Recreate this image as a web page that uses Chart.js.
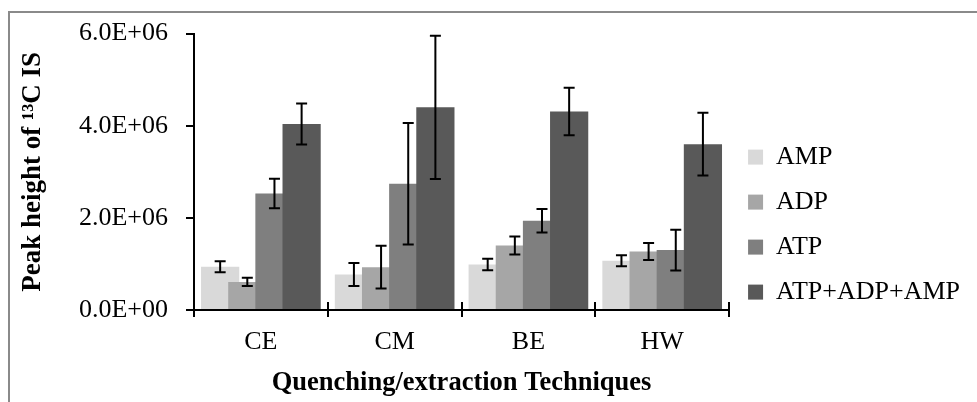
<!DOCTYPE html>
<html>
<head>
<meta charset="utf-8">
<script src="https://cdn.jsdelivr.net/npm/chart.js@4/dist/chart.umd.min.js"></script>
<style>
  body { margin: 0; background: #fff; }
  #wrap { position: relative; width: 977px; height: 402px; overflow: hidden; }
  #frame { position: absolute; left: 8px; top: 11px; width: 1000px; height: 420px;
           border-top: 2px solid #8a8a8a; border-left: 2px solid #8a8a8a; }
  canvas { position: absolute; left: 0; top: 0; }
</style>
</head>
<body>
<div id="wrap">
  <div id="frame"></div>
  <canvas id="chart" width="977" height="402"></canvas>
</div>
<script>
const categories = ['CE', 'CM', 'BE', 'HW']
const seriesNames = ['AMP', 'ADP', 'ATP', 'ATP+ADP+AMP']
const colors = ['#d9d9d9', '#a6a6a6', '#7f7f7f', '#595959']

const amp = [0.94e6, 0.77e6, 0.99e6, 1.07e6]
const adp = [0.61e6, 0.93e6, 1.40e6, 1.27e6]
const atp = [2.53e6, 2.74e6, 1.94e6, 1.30e6]
const total = [4.04e6, 4.40e6, 4.31e6, 3.60e6]

const ampErr = [0.12e6, 0.25e6, 0.125e6, 0.12e6]
const adpErr = [0.09e6, 0.465e6, 0.195e6, 0.185e6]
const atpErr = [0.32e6, 1.32e6, 0.255e6, 0.44e6]
const totalErr = [0.445e6, 1.555e6, 0.515e6, 0.68e6]

const yTicks = [0, 2e6, 4e6, 6e6]

const values = [amp, adp, atp, total]
const errors = [ampErr, adpErr, atpErr, totalErr]

const sci = (v) => {
  if (v === 0) return '0.0E+00'
  const e = Math.floor(Math.log10(v))
  return (v / Math.pow(10, e)).toFixed(1) + 'E+' + String(e).padStart(2, '0')
}

// bars left to right, later ones on top, then the error bars over everything
const barsWithErrors = {
  id: 'barsWithErrors',
  beforeDatasetsDraw(chart) {
    const metas = chart.getSortedVisibleDatasetMetas()
    metas.forEach(meta => meta.controller.draw())
    const ctx = chart.ctx
    const x = chart.scales.x
    const y = chart.scales.y
    ctx.save()
    ctx.strokeStyle = '#000'
    ctx.lineWidth = 2
    metas.forEach(meta => {
      meta.data.forEach((bar, i) => {
        const v = values[meta.index][i]
        const err = errors[meta.index][i]
        const top = y.getPixelForValue(v + err)
        const bot = y.getPixelForValue(v - err)
        ctx.beginPath()
        ctx.moveTo(bar.x, top); ctx.lineTo(bar.x, bot)
        ctx.moveTo(bar.x - 5.5, top); ctx.lineTo(bar.x + 5.5, top)
        ctx.moveTo(bar.x - 5.5, bot); ctx.lineTo(bar.x + 5.5, bot)
        ctx.stroke()
      })
    })
    // upper half of the category tick marks (they cross the axis)
    const step = x.width / categories.length
    ctx.beginPath()
    for (let i = 1; i <= categories.length; i++) {
      const px = Math.round(x.left + step * i)
      ctx.moveTo(px, x.top - 8); ctx.lineTo(px, x.top)
    }
    ctx.stroke()
    ctx.restore()
    return false
  }
}

const serif = 'Liberation Serif'

new Chart(document.getElementById('chart'), {
  type: 'bar',
  data: {
    labels: categories,
    datasets: seriesNames.map((name, i) => ({
      label: name,
      data: values[i],
      backgroundColor: colors[i],
      borderWidth: 0,
      categoryPercentage: 0.812,
      barPercentage: 1.407
    }))
  },
  options: {
    responsive: false,
    animation: false,
    devicePixelRatio: 1,
    layout: { padding: { top: 26, right: 7, left: 0, bottom: 0 } },
    plugins: {
      tooltip: { enabled: false },
      legend: {
        position: 'right',
        title: { display: true, text: '', padding: 10, font: { size: 1 } },
        labels: {
          boxWidth: 15,
          boxHeight: 15,
          padding: 19,
          color: '#000',
          font: { family: serif, size: 26 }
        }
      }
    },
    scales: {
      x: {
        grid: { offset: true, drawOnChartArea: false, drawTicks: true, tickLength: 7, color: '#000', lineWidth: 2 },
        border: { display: true, color: '#000', width: 2 },
        ticks: { color: '#000', padding: 10, font: { family: serif, size: 26 } },
        title: {
          display: true,
          text: 'Quenching/extraction Techniques',
          color: '#000',
          padding: { top: 4, bottom: 3 },
          font: { family: serif, size: 26.5, weight: 'bold' }
        },
        afterFit: (scale) => { scale.height = 92 }
      },
      y: {
        min: 0,
        max: 6e6,
        afterBuildTicks: (scale) => { scale.ticks = yTicks.map(v => ({ value: v })) },
        grid: { drawOnChartArea: false, drawTicks: true, tickLength: 8, color: '#000', lineWidth: 2 },
        border: { display: true, color: '#000', width: 2 },
        ticks: { color: '#000', padding: 18, font: { family: serif, size: 26 }, callback: (v) => sci(v) },
        title: {
          display: true,
          text: 'Peak height of ¹³C IS',
          color: '#000',
          padding: { top: 17, bottom: 0 },
          font: { family: serif, size: 27, weight: 'bold' }
        },
        afterFit: (scale) => { scale.width = 194 }
      }
    }
  },
  plugins: [barsWithErrors]
})
</script>
</body>
</html>
